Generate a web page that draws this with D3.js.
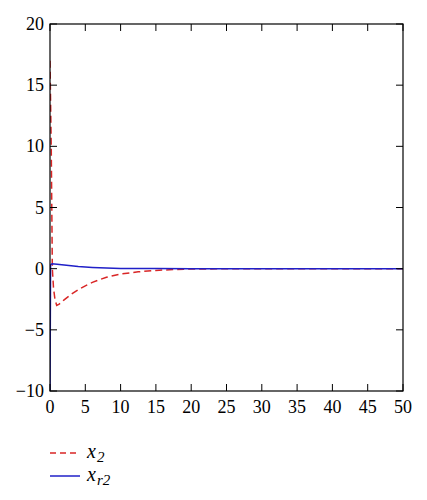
<!DOCTYPE html>
<html>
<head>
<meta charset="utf-8">
<script src="https://cdn.jsdelivr.net/npm/d3@7"></script>
</head>
<body style="margin:0; background:#fff">
<script>
// Size and plot box
const w = 427;
const h = 500;
const margin = {left: 50, right: 24, top: 24, bottom: 109};

// Data
const xTicks = [0, 5, 10, 15, 20, 25, 30, 35, 40, 45, 50];
const yTicks = [-10, -5, 0, 5, 10, 15, 20];

const x2 = [
    [0, 17], [0.18, 9.7], [0.33, 0], [0.5, -1.6], [0.7, -2.5], [0.95, -3.0],
    [1.3, -2.9], [2, -2.55], [3, -2.1], [4, -1.72], [5, -1.4], [6, -1.12],
    [7, -0.9], [8, -0.7], [10, -0.44], [12.5, -0.26], [15, -0.14],
    [17.5, -0.07], [20, -0.03], [25, -0.01], [30, 0], [50, 0]
];

const xr2 = [
    [0, -10], [0.08, 0.3], [0.3, 0.4], [1, 0.37], [2, 0.3], [3, 0.23],
    [4, 0.17], [5, 0.13], [6, 0.1], [8, 0.05], [10, 0.02], [15, 0.005],
    [20, 0], [50, 0]
];

const red = '#d92626';
const blue = '#2020c8';

const xScale = d3.scaleLinear()
                 .domain([0, 50])
                 .range([margin.left, w - margin.right]);

const yScale = d3.scaleLinear()
                 .domain([-10, 20])
                 .range([h - margin.bottom, margin.top]);

const svg = d3.select('body')
              .append('svg')
              .attr('width', w)
              .attr('height', h);

const line = d3.line()
               .x((d) => xScale(d[0]))
               .y((d) => yScale(d[1]));

// Curves, clipped to the plot box
svg.append('clipPath')
   .attr('id', 'clip')
   .append('rect')
   .attr('x', margin.left)
   .attr('y', margin.top)
   .attr('width', w - margin.left - margin.right)
   .attr('height', h - margin.top - margin.bottom);

svg.append('path')
   .datum(x2)
   .attr('clip-path', 'url(#clip)')
   .attr('fill', 'none')
   .attr('stroke', red)
   .attr('stroke-width', 1.5)
   .attr('stroke-dasharray', '7,4')
   .attr('d', line);

svg.append('path')
   .datum(xr2)
   .attr('clip-path', 'url(#clip)')
   .attr('fill', 'none')
   .attr('stroke', blue)
   .attr('stroke-width', 1.5)
   .attr('d', line);

// Axis tick marks, inward on all four sides
const tickLen = 7;

svg.selectAll('.xtickb').data(xTicks).enter().append('line')
   .attr('x1', (d) => xScale(d)).attr('x2', (d) => xScale(d))
   .attr('y1', h - margin.bottom).attr('y2', h - margin.bottom - tickLen)
   .attr('stroke', '#000');

svg.selectAll('.xtickt').data(xTicks).enter().append('line')
   .attr('x1', (d) => xScale(d)).attr('x2', (d) => xScale(d))
   .attr('y1', margin.top).attr('y2', margin.top + tickLen)
   .attr('stroke', '#000');

svg.selectAll('.ytickl').data(yTicks).enter().append('line')
   .attr('x1', margin.left).attr('x2', margin.left + tickLen)
   .attr('y1', (d) => yScale(d)).attr('y2', (d) => yScale(d))
   .attr('stroke', '#000');

svg.selectAll('.ytickr').data(yTicks).enter().append('line')
   .attr('x1', w - margin.right).attr('x2', w - margin.right - tickLen)
   .attr('y1', (d) => yScale(d)).attr('y2', (d) => yScale(d))
   .attr('stroke', '#000');

// Tick labels
const fmt = d3.format('');

svg.selectAll('.xlab').data(xTicks).enter().append('text')
   .attr('x', (d) => xScale(d))
   .attr('y', h - margin.bottom + 22)
   .attr('text-anchor', 'middle')
   .attr('font-family', '"Liberation Serif"')
   .attr('font-size', 18)
   .text((d) => fmt(d));

svg.selectAll('.ylab').data(yTicks).enter().append('text')
   .attr('x', margin.left - 6)
   .attr('y', (d) => yScale(d) + 6)
   .attr('text-anchor', 'end')
   .attr('font-family', '"Liberation Serif"')
   .attr('font-size', 18)
   .text((d) => fmt(d));

// Frame
svg.append('rect')
   .attr('x', margin.left)
   .attr('y', margin.top)
   .attr('width', w - margin.left - margin.right)
   .attr('height', h - margin.top - margin.bottom)
   .attr('fill', 'none')
   .attr('stroke', '#000')
   .attr('stroke-width', 1.2);

// Legend
const legend = [
    {name: 'x', sub: '2', color: red, dash: '6,4', y: 453},
    {name: 'x', sub: 'r2', color: blue, dash: 'none', y: 476}
];

legend.forEach(function (d) {
    svg.append('line')
       .attr('x1', 50)
       .attr('x2', 80)
       .attr('y1', d.y)
       .attr('y2', d.y)
       .attr('stroke', d.color)
       .attr('stroke-width', 1.5)
       .attr('stroke-dasharray', d.dash);

    svg.append('text')
       .attr('x', 87)
       .attr('y', d.y + 5)
       .attr('font-family', '"Liberation Serif"')
       .attr('font-size', 20)
       .attr('font-style', 'italic')
       .text(d.name);

    svg.append('text')
       .attr('x', 97)
       .attr('y', d.y + 9)
       .attr('font-family', '"Liberation Serif"')
       .attr('font-size', 15)
       .attr('font-style', 'italic')
       .text(d.sub);
});
</script>
</body>
</html>
